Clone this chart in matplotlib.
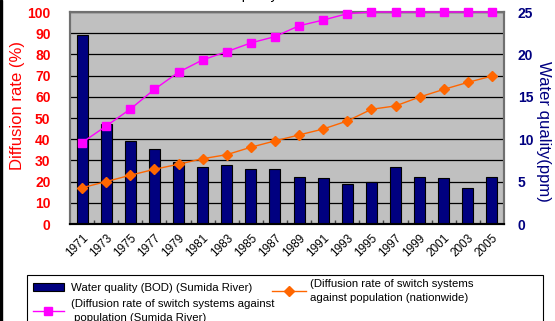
import matplotlib
matplotlib.use("Agg")
import matplotlib.pyplot as plt
import numpy as np
from matplotlib.patches import Rectangle

plt.rcParams['font.family'] = ['Liberation Sans', 'DejaVu Sans']

# data
years = ['1971', '1973', '1975', '1977', '1979', '1981', '1983', '1985', '1987',
         '1989', '1991', '1993', '1995', '1997', '1999', '2001', '2003', '2005']
bod_sumida = [22.3, 11.8, 9.75, 8.9, 7.3, 6.7, 7.0, 6.5, 6.5,
              5.6, 5.4, 4.7, 5.0, 6.7, 5.6, 5.4, 4.2, 5.6]
rate_sumida = [38.4, 46.2, 54.2, 63.5, 71.6, 77.4, 81.3, 85.4, 88.4,
               93.5, 96.2, 99.2, 100, 100, 100, 100, 100, 100]
rate_nation = [17.1, 20.0, 23.0, 25.8, 28.2, 30.8, 32.7, 36.2, 39.2,
               42.0, 44.8, 48.6, 54.1, 55.7, 59.9, 63.5, 66.8, 69.8]

label_bod = 'Water quality (BOD) (Sumida River)'
label_sumida = '(Diffusion rate of switch systems against\n population (Sumida River)'
label_nation = '(Diffusion rate of switch systems\nagainst population (nationwide)'

navy = '#000080'
red = '#FF0000'
W, H = 555, 321

fig = plt.figure(figsize=(5.55, 3.21), dpi=100)
ax = fig.add_axes([70/W, 97/H, 434/W, 212/H])
ax2 = ax.twinx()

x = np.arange(len(years))

# bars on the right-hand (ppm) axis, drawn underneath
ax.set_facecolor('#C0C0C0')
bars = ax.bar(x, bod_sumida, width=0.46, color=navy, edgecolor='black',
              linewidth=0.8, zorder=3, label=label_bod)
ax.set_ylim(0, 25)
ax.set_xlim(-0.5, len(years) - 0.5)
ax.yaxis.tick_right()
ax.set_yticks(np.arange(0, 26, 5))
ax.set_yticks(np.arange(2.5, 25, 5), minor=True)
ax.grid(True, which='both', axis='y', color='black', linewidth=0.9, zorder=0)
ax.set_axisbelow(True)
ax.tick_params(axis='y', which='both', length=0, pad=10, labelsize=10,
               labelcolor=navy)
for t in ax.get_yticklabels():
    t.set_fontweight('bold')

ax.set_xticks(x)
ax.set_xticklabels(years, rotation=45, ha='right', rotation_mode='anchor',
                   fontsize=8.5)
ax.set_xticks(x[:-1] + 0.5, minor=True)
ax.tick_params(axis='x', which='major', length=0, pad=6)
ax.tick_params(axis='x', which='minor', direction='in', length=3,
               width=1, color='#404040')

# lines on the left-hand (%) axis
l1, = ax2.plot(x, rate_sumida, color='#FF00FF', marker='s', markersize=5.5,
               linewidth=1, zorder=5, clip_on=False)
l2, = ax2.plot(x, rate_nation, color='#FF6600', marker='D', markersize=5,
               linewidth=1, zorder=5, clip_on=False)
ax2.set_ylim(0, 100)
ax2.yaxis.tick_left()
ax2.set_yticks(np.arange(0, 101, 10))
ax2.tick_params(axis='y', length=0, pad=14, labelsize=10, labelcolor=red)
for t in ax2.get_yticklabels():
    t.set_fontweight('bold')

for a in (ax, ax2):
    for s in a.spines.values():
        s.set_color('#707070')
        s.set_linewidth(1.5)
    a.spines['bottom'].set_color('black')

# axis titles
fig.text(18/W, 1 - 106/H, 'Diffusion rate (%)', color=red, fontsize=12,
         rotation=90, ha='center', va='center')
fig.text(544/W, 1 - 131/H, 'Water quality(ppm)', color=navy, fontsize=12,
         rotation=270, ha='center', va='center')

# title, cut off at the top of the picture
fig.text(277/W, 1 + 0.5/H, 'Diffusion rate and water quality',
         fontsize=10, ha='right', va='baseline')

# legend frame (runs off the bottom edge)
fig.add_artist(Rectangle((27/W, -0.1), 516/W, (H - 275)/H + 0.1,
                         transform=fig.transFigure, facecolor='white',
                         edgecolor='black', linewidth=0.8, zorder=1))

leg1 = fig.legend([bars, l1], [label_bod, label_sumida], loc='upper left',
                  bbox_to_anchor=(33/W, 1 - 283/H), fontsize=8.2,
                  frameon=False, borderpad=0, borderaxespad=0,
                  handlelength=2.7, handletextpad=0.6, labelspacing=0.55)
leg2 = fig.legend([l2], [label_nation], loc='upper left',
                  bbox_to_anchor=(272/W, 1 - 279/H), fontsize=8.2,
                  frameon=False, borderpad=0, borderaxespad=0,
                  handlelength=3.0, handletextpad=0.35)
for lg in (leg1, leg2):
    lg.set_zorder(3)
    for t in lg.get_texts():
        t.set_linespacing(1.45)

# dark strip at the left edge
fig.add_artist(Rectangle((0, 0), 2/W, 1, color='black',
                         transform=fig.transFigure))

fig.savefig('out.png', dpi=100)
